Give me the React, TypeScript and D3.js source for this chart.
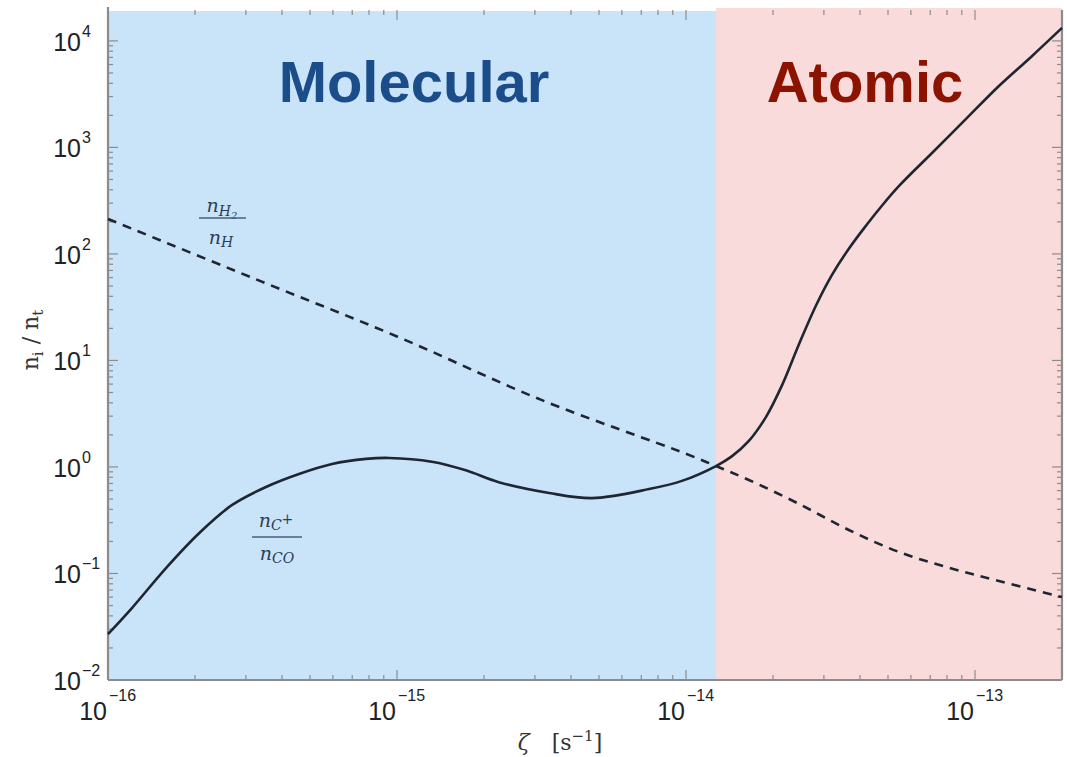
import * as d3 from "d3";

// n_H2 / n_H  (dashed)
const zetaH2 = [1e-16, 3.16e-16, 1e-15, 3.16e-15, 1e-14, 1.27e-14, 1.65e-14, 2.46e-14, 3.66e-14, 5.46e-14, 8.13e-14, 1.21e-13, 2.0e-13];
const ratioH2 = [213, 59.6, 16.8, 4.26, 1.33, 1.02, 0.755, 0.45, 0.256, 0.159, 0.113, 0.085, 0.06];

// n_C+ / n_CO  (solid)
const zetaC = [
  1e-16, 1.21e-16, 1.59e-16, 2.07e-16, 2.69e-16, 3.52e-16, 4.58e-16, 5.96e-16, 7.81e-16, 9.38e-16,
  1.32e-15, 1.73e-15, 2.25e-15, 3.36e-15, 4.73e-15, 7.45e-15, 9.68e-15, 1.27e-14, 1.44e-14, 1.65e-14,
  1.89e-14, 2.15e-14, 2.46e-14, 2.82e-14, 3.2e-14, 3.66e-14, 4.2e-14, 4.77e-14, 5.46e-14, 7.1e-14,
  9.31e-14, 1.21e-13, 1.57e-13, 2.0e-13,
];
const ratioC = [
  0.027, 0.0474, 0.113, 0.24, 0.44, 0.649, 0.86, 1.067, 1.19, 1.215,
  1.12, 0.93, 0.72, 0.57, 0.51, 0.62, 0.74, 1.02, 1.257, 1.755,
  2.94, 5.87, 14.2, 33.0, 63.6, 112, 185, 285, 435, 887,
  1853, 3775, 7149, 13240,
];

const zetaSplit = 1.27e-14;
const xDomain = [1e-16, 2e-13];
const yDomain = [1e-2, 1.95e4];
const xTickExps = [-16, -15, -14, -13];
const yTickExps = [-2, -1, 0, 1, 2, 3, 4];
const regionLabels = ["Molecular", "Atomic"];

const W = 1067;
const H = 757;
const L = 108, R = 1062, T = 10, B = 680;

export default function App() {
  const x = d3.scaleLog().domain(xDomain).range([L, R]);
  const y = d3.scaleLog().domain(yDomain).range([B, T]);

  const line = d3
    .line<[number, number]>()
    .x((d) => x(d[0]))
    .y((d) => y(d[1]))
    .curve(d3.curveCatmullRom.alpha(0.5));

  const h2Path = line(zetaH2.map((z, i) => [z, ratioH2[i]]));
  const cPath = line(zetaC.map((z, i) => [z, ratioC[i]]));

  const isMajor = (v: number) => Math.abs(Math.log10(v) - Math.round(Math.log10(v))) < 1e-6;
  const xTicks = x.ticks();
  const yTicks = y.ticks().filter((v) => v <= yDomain[1]);

  const axisColor = "#8c8c8c";
  const lineColor = "#1e2631";
  const labelFont = "'Liberation Sans', Arial, sans-serif";
  const serif = "'DejaVu Serif', 'Liberation Serif', serif";
  const xs = x(zetaSplit);

  return (
    <svg width={W} height={H} style={{ position: "absolute", left: 0, top: 0, background: "#fff" }}>
      {/* shaded regions */}
      <rect x={L} y={T + 1} width={xs - L} height={B - T - 1} fill="#c9e3f9" />
      <rect x={xs} y={T - 2} width={R - xs} height={B - T + 2} fill="#f9dbdb" />

      <text x={(L + xs) / 2 + 2} y={102} textAnchor="middle" fontFamily={labelFont} fontWeight="bold" fontSize={58} fill="#1a4d8a">
        {regionLabels[0]}
      </text>
      <text x={(xs + R) / 2 - 24} y={102} textAnchor="middle" fontFamily={labelFont} fontWeight="bold" fontSize={58} fill="#8b1300">
        {regionLabels[1]}
      </text>

      {/* ticks */}
      <g stroke={axisColor} strokeWidth={1.2}>
        {xTicks.map((t, i) => {
          const len = isMajor(t) ? 10 : 5;
          return (
            <g key={"xt" + i}>
              <line x1={x(t)} x2={x(t)} y1={B} y2={B - len} />
              <line x1={x(t)} x2={x(t)} y1={T} y2={T + len} />
            </g>
          );
        })}
        {yTicks.map((t, i) => {
          const len = isMajor(t) ? 10 : 5;
          return (
            <g key={"yt" + i}>
              <line x1={L} x2={L + len} y1={y(t)} y2={y(t)} />
              <line x1={R} x2={R - len} y1={y(t)} y2={y(t)} />
            </g>
          );
        })}
      </g>

      {/* frame */}
      <line x1={L} x2={L} y1={T - 3} y2={B} stroke={axisColor} strokeWidth={2.2} />
      <line x1={L} x2={R} y1={B} y2={B} stroke={axisColor} strokeWidth={2.2} />
      <line x1={R} x2={R} y1={T} y2={B} stroke={axisColor} strokeWidth={2.2} />

      {/* curves */}
      <path d={h2Path ?? ""} fill="none" stroke={lineColor} strokeWidth={2.6} strokeDasharray="9 7" />
      <path d={cPath ?? ""} fill="none" stroke={lineColor} strokeWidth={2.6} />

      {/* curve labels */}
      <g fontFamily={serif} fontStyle="italic" fill="#2c3e55">
        <text x={222} y={212} textAnchor="middle" fontSize={19}>
          n<tspan fontSize={14} dy={4}>H</tspan><tspan fontSize={10} dy={3}>2</tspan>
        </text>
        <line x1={199} x2={246} y1={218} y2={218} stroke="#4a5e78" strokeWidth={1.5} />
        <text x={221} y={244} textAnchor="middle" fontSize={19}>
          n<tspan fontSize={14} dy={3}>H</tspan>
        </text>

        <text x={276} y={527} textAnchor="middle" fontSize={19}>
          n<tspan fontSize={14} dy={3}>C</tspan><tspan fontSize={14} dy={-6}>+</tspan>
        </text>
        <line x1={252} x2={302} y1={537} y2={537} stroke="#4a5e78" strokeWidth={1.5} />
        <text x={277} y={560} textAnchor="middle" fontSize={19}>
          n<tspan fontSize={14} dy={3}>CO</tspan>
        </text>
      </g>

      {/* tick labels */}
      <g fontFamily={labelFont} fill="#222">
        {xTickExps.map((e) => (
          <g key={"xl" + e}>
            <text x={x(Math.pow(10, e)) - 1} y={720} textAnchor="end" fontSize={25}>10</text>
            <text x={x(Math.pow(10, e)) + 1} y={701} fontSize={16}>{"\u2212" + Math.abs(e)}</text>
          </g>
        ))}
        {yTickExps.map((e) => (
          <g key={"yl" + e}>
            <text x={81} y={y(Math.pow(10, e)) + 10} textAnchor="end" fontSize={25}>10</text>
            <text x={82} y={y(Math.pow(10, e)) - 4} fontSize={16}>{(e < 0 ? "\u2212" : "") + Math.abs(e)}</text>
          </g>
        ))}
      </g>

      {/* axis titles */}
      <text x={560} y={750} fontFamily={serif} fontSize={22} fill="#333" textAnchor="middle">
        <tspan fontStyle="italic">ζ</tspan>
        <tspan dx={22}>[s</tspan>
        <tspan fontSize={15} dy={-9}>−1</tspan>
        <tspan dy={9}>]</tspan>
      </text>
      <text transform="translate(38,340) rotate(-90)" fontFamily={serif} fontSize={22} fill="#333" textAnchor="middle">
        n<tspan fontSize={15} dy={5}>i</tspan><tspan dy={-5}> / n</tspan><tspan fontSize={15} dy={5}>t</tspan>
      </text>
    </svg>
  );
}
